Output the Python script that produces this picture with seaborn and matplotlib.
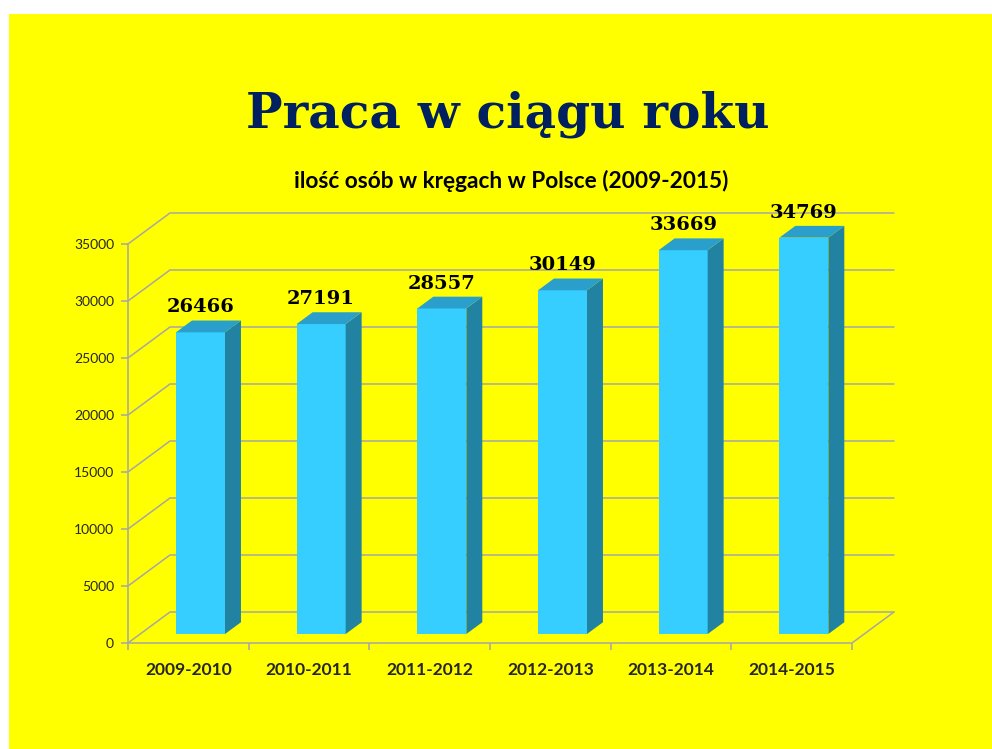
import numpy as np
import pandas as pd
import matplotlib
matplotlib.use('Agg')
import matplotlib.pyplot as plt
import seaborn as sns
from matplotlib.patches import Polygon, Rectangle

# data
seasons = ['2009-2010', '2010-2011', '2011-2012', '2012-2013', '2013-2014', '2014-2015']
people = [26466, 27191, 28557, 30149, 33669, 34769]
y_ticks = [0, 5000, 10000, 15000, 20000, 25000, 30000, 35000]

df = pd.DataFrame({'season': seasons, 'people': people})

# colours
YELLOW = '#FFFF00'
FRONT = '#36CDFF'
SIDE = '#2282A1'
TOP = '#2A9FCB'
GRID = '#A6A6A6'
NAVY = '#002060'

# fake 3d box: depth of the plot in data units, and where the bars sit in it
DX = 0.348
DY = 2720
F0, F1 = 0.29, 0.67

sns.set_theme(style='white')
plt.rcParams['font.family'] = ['Lato', 'DejaVu Sans']

fig = plt.figure(figsize=(9.92, 7.49), dpi=100, facecolor='white')
fig.patches.append(Rectangle((9 / 992, 0), 983 / 992, 735 / 749, transform=fig.transFigure,
                             facecolor=YELLOW, edgecolor='none', zorder=-1))
ax = fig.add_axes([128 / 992, 106 / 749, 766 / 992, 456 / 749])
ax.set_facecolor('none')

sns.barplot(data=df, x='season', y='people', color=FRONT, saturation=1, width=0.406,
            edgecolor='none', zorder=3, ax=ax)

# push the front faces back into the box and add side / top faces
for bar, val in zip(ax.patches, people):
    x0 = bar.get_x() + F0 * DX
    w = bar.get_width()
    bar.set_x(x0)
    bar.set_y(F0 * DY)
    d = (F1 - F0) * DX
    side = Polygon([(x0 + w, F0 * DY), (x0 + w, val + F0 * DY),
                    (x0 + w + d, val + F1 * DY), (x0 + w + d, F1 * DY)],
                   closed=True, facecolor=SIDE, edgecolor='none', zorder=3)
    top = Polygon([(x0, val + F0 * DY), (x0 + w, val + F0 * DY),
                   (x0 + w + d, val + F1 * DY), (x0 + d, val + F1 * DY)],
                  closed=True, facecolor=TOP, edgecolor='none', zorder=3)
    ax.add_patch(side)
    ax.add_patch(top)
    ax.annotate(f'{val}', (x0 + w / 2, val + F1 * DY), xytext=(0, 3), textcoords='offset points',
                ha='center', va='bottom', fontsize=14, fontweight='bold', color='black',
                family=['DejaVu Serif'], zorder=4)

# walls and floor
x_lo, x_hi = -0.5, len(seasons) - 0.5
for v in y_ticks:
    ax.plot([x_lo, x_lo + DX, x_hi + DX], [v, v + DY, v + DY], color=GRID, lw=1.1,
            zorder=1, clip_on=False)
ax.plot([x_lo, x_hi, x_hi + DX], [0, 0, DY], color=GRID, lw=1.1, zorder=1, clip_on=False)
ax.plot([x_lo, x_lo], [0, y_ticks[-1]], color=GRID, lw=1.1, zorder=1, clip_on=False)

ax.set_xlim(x_lo, x_hi + DX)
ax.set_ylim(0, 40000)
for s in ax.spines.values():
    s.set_visible(False)

ax.set_xlabel('')
ax.set_ylabel('')
ax.set_xticks(range(len(seasons)))
ax.set_xticklabels(seasons, fontsize=12.5, fontweight='bold')
ax.set_xticks(np.arange(x_lo, x_hi + 0.01, 1), minor=True)
ax.tick_params(axis='x', which='major', bottom=True, length=0, pad=14)
ax.tick_params(axis='x', which='minor', bottom=True, length=5, width=1.1, color=GRID)
ax.set_yticks(y_ticks)
ax.set_yticklabels([str(t) for t in y_ticks])
ax.tick_params(axis='y', left=True, length=5, width=1.1, color=GRID, pad=5, labelsize=10)

fig.text(508 / 992, 1 - 127 / 749, 'Praca w ciągu roku', ha='center', va='baseline',
         fontsize=35, fontweight='bold', color=NAVY, family=['DejaVu Serif'])
fig.text(511 / 992, 1 - 188 / 749, 'ilość osób w kręgach w Polsce (2009-2015)', ha='center',
         va='baseline', fontsize=16.3, fontweight='bold', color='black')

fig.savefig('out.png', dpi=100, facecolor=fig.get_facecolor())
